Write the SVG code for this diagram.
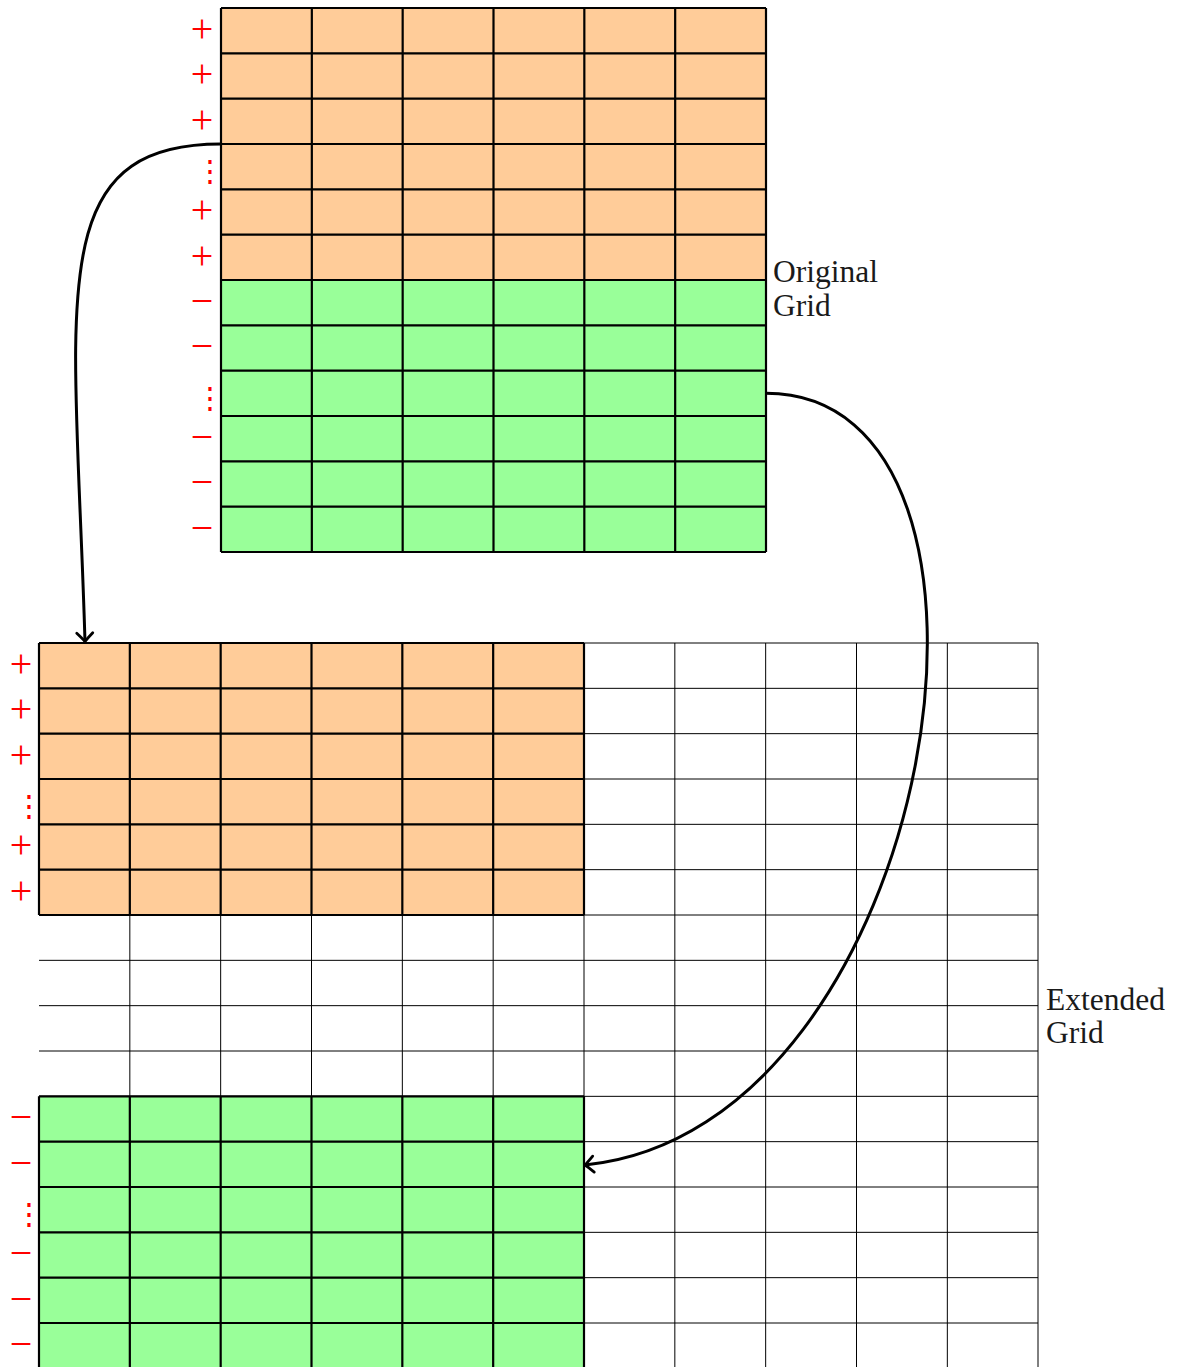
<svg xmlns="http://www.w3.org/2000/svg" width="1180" height="1367" viewBox="0 0 1180 1367">
<defs>
<style>
.org{fill:#FFCC99}
.grn{fill:#99FF99}
.thick{fill:none;stroke:#000;stroke-width:2.2}
.thin{fill:none;stroke:#000;stroke-width:1}
.sign{font-family:"Liberation Serif",serif;font-size:40px;fill:#FF0000;text-anchor:middle}
.dots{font-family:"DejaVu Serif",serif;font-size:30px;fill:#FF0000;text-anchor:middle}
.lbl{font-family:"Liberation Serif",serif;font-size:31.5px;fill:#1a1a1a}
.conn{fill:none;stroke:#000;stroke-width:3}
</style>
<marker id="arr" markerUnits="userSpaceOnUse" markerWidth="26" markerHeight="26" viewBox="-13 -13 26 26" refX="0" refY="0" orient="auto">
<path d="M-8.5,-8 Q-3,-2.5 0,0 Q-3,2.5 -8.5,8" fill="none" stroke="#000" stroke-width="2.8" stroke-linecap="round" stroke-linejoin="round"/>
</marker>
</defs>
<rect width="1180" height="1367" fill="#fff"/>

<g id="extended-grid">
<path class="thin" d="M129.83,643V1367 M220.67,643V1367 M311.5,643V1367 M402.33,643V1367 M493.17,643V1367 M584,643V1367 M674.83,643V1367 M765.67,643V1367 M856.5,643V1367 M947.33,643V1367 M1038,643V1367
M39,643H1038 M39,688.33H1038 M39,733.67H1038 M39,779H1038 M39,824.33H1038 M39,869.67H1038 M39,915H1038 M39,960.33H1038 M39,1005.67H1038 M39,1051H1038 M39,1096.33H1038 M39,1141.67H1038 M39,1187H1038 M39,1232.33H1038 M39,1277.67H1038 M39,1323H1038"/>
</g>

<g id="original-grid">
<rect class="org" x="221" y="8" width="545" height="272"/>
<rect class="grn" x="221" y="280" width="545" height="272"/>
<path class="thick" d="M221,8V552 M311.83,8V552 M402.67,8V552 M493.5,8V552 M584.33,8V552 M675.17,8V552 M766,8V552
M221,8H766 M221,53.33H766 M221,98.67H766 M221,144H766 M221,189.33H766 M221,234.67H766 M221,280H766 M221,325.33H766 M221,370.67H766 M221,416H766 M221,461.33H766 M221,506.67H766 M221,552H766"/>
<text class="sign" x="202" y="42">+</text>
<text class="sign" x="202" y="87.3">+</text>
<text class="sign" x="202" y="132.6">+</text>
<text class="dots" x="210" y="181">⋮</text>
<text class="sign" x="202" y="223.3">+</text>
<text class="sign" x="202" y="268.6">+</text>
<text class="sign" x="202" y="314">−</text>
<text class="sign" x="202" y="359.3">−</text>
<text class="dots" x="210" y="407.7">⋮</text>
<text class="sign" x="202" y="450">−</text>
<text class="sign" x="202" y="495.3">−</text>
<text class="sign" x="202" y="540.6">−</text>
</g>

<g id="extended-top-block">
<rect class="org" x="39" y="643" width="545" height="272"/>
<path class="thick" d="M39,643V915 M129.83,643V915 M220.67,643V915 M311.5,643V915 M402.33,643V915 M493.17,643V915 M584,643V915
M39,643H584 M39,688.33H584 M39,733.67H584 M39,779H584 M39,824.33H584 M39,869.67H584 M39,915H584"/>
<text class="sign" x="21" y="677">+</text>
<text class="sign" x="21" y="722.3">+</text>
<text class="sign" x="21" y="767.6">+</text>
<text class="dots" x="29" y="816">⋮</text>
<text class="sign" x="21" y="858.3">+</text>
<text class="sign" x="21" y="903.6">+</text>
</g>

<g id="extended-bottom-block">
<rect class="grn" x="39" y="1096.33" width="545" height="272"/>
<path class="thick" d="M39,1096.33V1369 M129.83,1096.33V1369 M220.67,1096.33V1369 M311.5,1096.33V1369 M402.33,1096.33V1369 M493.17,1096.33V1369 M584,1096.33V1369
M39,1096.33H584 M39,1141.67H584 M39,1187H584 M39,1232.33H584 M39,1277.67H584 M39,1323H584"/>
<text class="sign" x="21" y="1130.3">−</text>
<text class="sign" x="21" y="1175.6">−</text>
<text class="dots" x="29" y="1224">⋮</text>
<text class="sign" x="21" y="1266.3">−</text>
<text class="sign" x="21" y="1311.6">−</text>
<text class="sign" x="21" y="1357">−</text>
</g>

<g id="label-original">
<text class="lbl" x="773" y="281.5">Original</text>
<text class="lbl" x="773" y="315.5">Grid</text>
</g>

<g id="label-extended">
<text class="lbl" x="1046" y="1009.5">Extended</text>
<text class="lbl" x="1046" y="1042.5">Grid</text>
</g>

<g id="connectors">
<path class="conn" d="M221,144 C40,144 75,300 85,641.5" marker-end="url(#arr)"/>
<path class="conn" d="M766,393.3 C1050,393.3 940,1130 585,1165" marker-end="url(#arr)"/>
</g>
</svg>
